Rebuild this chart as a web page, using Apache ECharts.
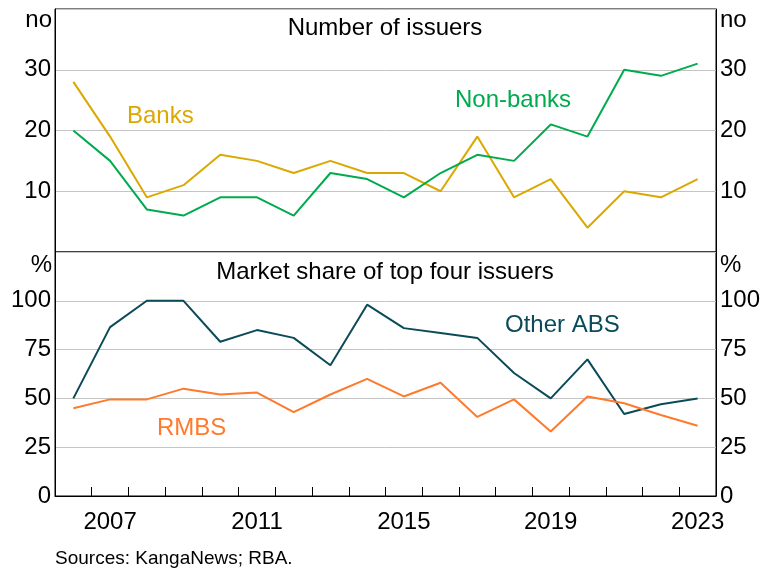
<!DOCTYPE html>
<html>
<head>
<meta charset="utf-8">
<script src="https://cdn.jsdelivr.net/npm/echarts@6/dist/echarts.min.js"></script>
<style>
	html, body { margin: 0; padding: 0; background: #fff; }
	#chart { width: 763px; height: 572px; }
</style>
</head>
<body>
<div id="chart"></div>
<script>
const years = [ '2006', '2007', '2008', '2009', '2010', '2011', '2012', '2013', '2014',
	'2015', '2016', '2017', '2018', '2019', '2020', '2021', '2022', '2023' ]

// number of issuers
const banks    = [ 28, 19, 9, 11, 16, 15, 13, 15, 13, 13, 10, 19, 9, 12, 4, 10, 9, 12 ]
const nonBanks = [ 20, 15, 7, 6, 9, 9, 6, 13, 12, 9, 13, 16, 15, 21, 19, 30, 29, 31 ]

// market share of top four issuers, per cent
const otherAbs = [ 50, 86.5, 100, 100, 79, 85, 81, 67, 98, 86, 83.5, 81, 63, 50, 70, 42, 47, 50 ]
const rmbs     = [ 45, 49.5, 49.5, 55, 52, 53, 43, 52, 60, 51, 58, 40.5, 49.5, 33, 51, 47.5, 41.5, 36 ]

const issuerTicks = [ 10, 20, 30 ]
const shareTicks  = [ 0, 25, 50, 75, 100 ]

const FONT = 'Liberation Sans, Arial, sans-serif'
const SIZE = 24
const grid = '#c4c4c4'

const chart = echarts.init(document.getElementById('chart'), null, { renderer: 'canvas' })

const yAxis = (gridIndex, max, interval, ticks, position) => ({
	type: 'value', gridIndex, position, min: 0, max, interval,
	axisLine: { show: true, lineStyle: { color: '#000', width: 1 } },
	axisTick: { show: false },
	splitLine: { show: position === 'left', lineStyle: { color: grid, width: 1 } },
	axisLabel: {
		color: '#000', fontFamily: FONT, fontSize: SIZE, margin: 4,
		formatter: v => ticks.includes(v) ? String(v) : ''
	}
})

const text = (x, y, str, color, align = 'left', size = SIZE) => ({
	type: 'text', x, y,
	style: { text: str, fill: color, font: `${size}px ${FONT}`, align, verticalAlign: 'middle' }
})

chart.setOption({
	backgroundColor: '#fff',
	animation: false,
	grid: [
		{ left: 55, right: 47, top: 9, height: 243, show: true, borderColor: '#000', borderWidth: 1 },
		{ left: 55, right: 47, top: 252, height: 244, show: true, borderColor: '#000', borderWidth: 1 }
	],
	xAxis: [
		{
			type: 'category', gridIndex: 0, data: years,
			axisLine: { show: false }, axisTick: { show: false }, axisLabel: { show: false }
		},
		{
			type: 'category', gridIndex: 1, data: years,
			axisLine: { show: true, lineStyle: { color: '#000', width: 1 } },
			axisTick: { show: true, inside: true, length: 9, interval: 0, lineStyle: { color: '#000' } },
			axisLabel: {
				color: '#000', fontFamily: FONT, fontSize: SIZE, margin: 14,
				interval: i => (i - 1) % 4 === 0
			}
		}
	],
	yAxis: [
		yAxis(0, 40, 10, issuerTicks, 'left'),
		yAxis(0, 40, 10, issuerTicks, 'right'),
		yAxis(1, 125, 25, shareTicks, 'left'),
		yAxis(1, 125, 25, shareTicks, 'right')
	],
	series: [
		{ name: 'Banks', type: 'line', xAxisIndex: 0, yAxisIndex: 0, data: banks,
			symbol: 'none', lineStyle: { color: '#dba800', width: 2 } },
		{ name: 'Non-banks', type: 'line', xAxisIndex: 0, yAxisIndex: 0, data: nonBanks,
			symbol: 'none', lineStyle: { color: '#00ab4e', width: 2 } },
		{ name: 'Other ABS', type: 'line', xAxisIndex: 1, yAxisIndex: 2, data: otherAbs,
			symbol: 'none', lineStyle: { color: '#0b4a58', width: 2 } },
		{ name: 'RMBS', type: 'line', xAxisIndex: 1, yAxisIndex: 2, data: rmbs,
			symbol: 'none', lineStyle: { color: '#ff7a2c', width: 2 } }
	],
	graphic: [
		text(385, 28, 'Number of issuers', '#000', 'center'),
		text(385, 272, 'Market share of top four issuers', '#000', 'center'),
		text(52, 20, 'no', '#000', 'right'),
		text(720, 20, 'no', '#000'),
		text(52, 265, '%', '#000', 'right'),
		text(720, 265, '%', '#000'),
		text(127, 116, 'Banks', '#dba800'),
		text(455, 100, 'Non-banks', '#00ab4e'),
		text(505, 325, 'Other ABS', '#0b4a58'),
		text(157, 428, 'RMBS', '#ff7a2c'),
		text(55, 559, 'Sources: KangaNews; RBA.', '#000', 'left', 19)
	]
})
</script>
</body>
</html>
